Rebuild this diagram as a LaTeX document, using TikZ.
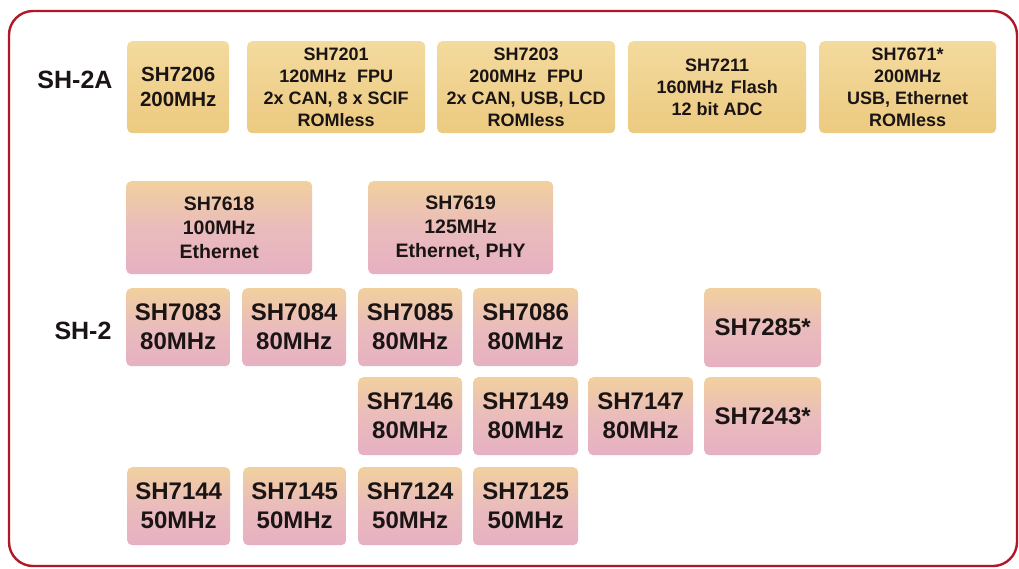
\documentclass[tikz,border=0pt]{standalone}
\usepackage{fontspec}
\setmainfont{Liberation Sans}
\definecolor{framered}{RGB}{176,24,40}
\definecolor{goldtop}{RGB}{243,218,158}
\definecolor{goldbot}{RGB}{236,202,128}
\definecolor{peachtop}{RGB}{241,208,158}
\definecolor{pinkmid}{RGB}{234,188,188}
\definecolor{pinkbot}{RGB}{230,176,194}
\definecolor{inkcol}{RGB}{26,20,20}
\tikzset{%
  chip/.style={rounded corners=5pt, anchor=north west, align=center, inner sep=0pt, text=inkcol},
  shtwoa/.style={chip, top color=goldtop, bottom color=goldbot},
  shtwo/.style={chip, top color=peachtop, bottom color=pinkbot, middle color=pinkmid},
  sz/.style 2 args={minimum width=#1, minimum height=#2},
  small/.style={font=\bfseries\fontsize{18}{22}\selectfont},
  mid/.style={font=\bfseries\fontsize{19.5}{24}\selectfont},
  big/.style={font=\bfseries\fontsize{24}{29}\selectfont},
  fam/.style={font=\bfseries\fontsize{25}{30}\selectfont, text=inkcol},
}

\begin{document}
\begin{tikzpicture}[x=1pt, y=-1pt]
    \useasboundingbox (0,0) rectangle (1019,568);

    %outer frame
    \draw[framered, line width=2.4pt, rounded corners=24pt] (9,11) rectangle (1017,566);

    %family labels
    \node[fam] (famA) at (75,80) {SH-2A};
    \node[fam] (famB) at (83,331) {SH-2};

    %SH-2A row
    \node[shtwoa, sz={102}{92}, font=\bfseries\fontsize{20.5}{25}\selectfont] (sh7206) at (127,41) {SH7206\\200MHz};
    \node[shtwoa, sz={178}{92}, small] (sh7201) at (247,41) {SH7201\\120MHz\hspace{0.6em}FPU\\2x CAN, 8 x SCIF\\ROMless};
    \node[shtwoa, sz={178}{92}, small] (sh7203) at (437,41) {SH7203\\200MHz\hspace{0.6em}FPU\\2x CAN, USB, LCD\\ROMless};
    \node[shtwoa, sz={178}{92}, small] (sh7211) at (628,41) {SH7211\\160MHz\hspace{0.4em}Flash\\12 bit ADC};
    \node[shtwoa, sz={177}{92}, small] (sh7671) at (819,41) {SH7671*\\200MHz\\USB, Ethernet\\ROMless};

    %SH-2 ethernet parts
    \node[shtwo, sz={186}{93}, mid] (sh7618) at (126,181) {SH7618\\100MHz\\Ethernet};
    \node[shtwo, sz={185}{93}, mid] (sh7619) at (368,181) {SH7619\\125MHz\\Ethernet, PHY};

    %SH-2 small parts
    \foreach \nm/\xx/\yy/\ww/\mhz in {7083/126/288/104/80, 7084/242/288/104/80, 7085/358/288/104/80,
        7086/473/288/105/80, 7146/358/377/104/80, 7149/473/377/105/80, 7147/588/377/105/80,
        7144/127/467/103/50, 7145/243/467/103/50, 7124/358/467/104/50, 7125/473/467/105/50}
      \node[shtwo, sz={\ww}{78}, big] (sh\nm) at (\xx,\yy) {SH\nm\\\mhz MHz};

    \node[shtwo, sz={117}{79}, big] (sh7285) at (704,288) {SH7285*};
    \node[shtwo, sz={117}{78}, big] (sh7243) at (704,377) {SH7243*};

\end{tikzpicture}
\end{document}
